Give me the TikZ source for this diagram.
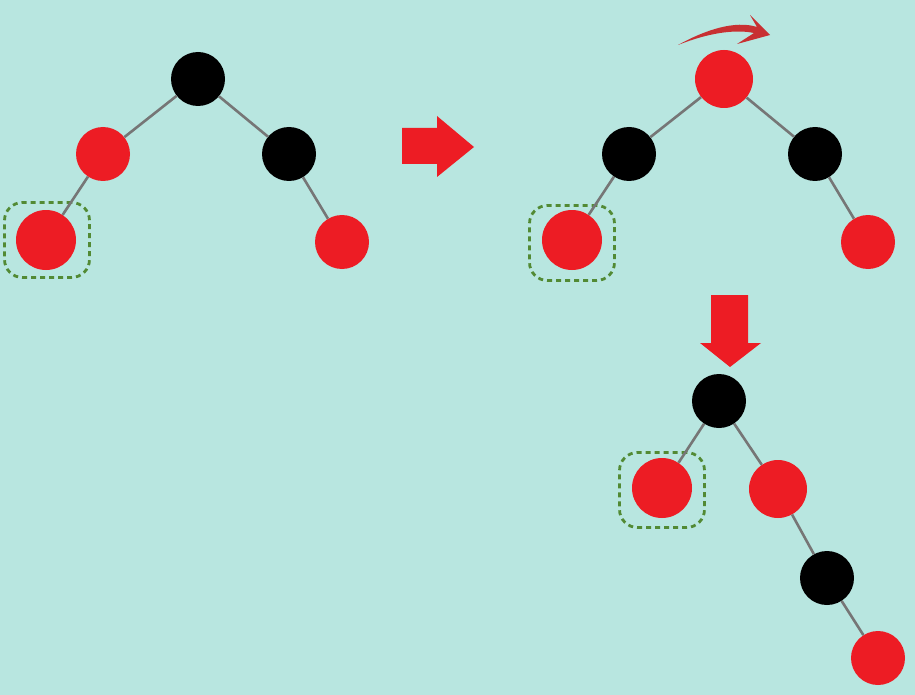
\documentclass[tikz,border=0pt]{standalone}
\usepackage{tikz}
\usetikzlibrary{arrows.meta}
\definecolor{rbback}{RGB}{184,230,224}
\definecolor{rbred}{RGB}{237,28,36}
\definecolor{rbswoosh}{RGB}{200,48,50}
\definecolor{rbedge}{RGB}{118,118,118}
\definecolor{rbgreen}{RGB}{82,138,52}

\begin{document}
\begin{tikzpicture}[
  x=1pt, y=-1pt,
  rednode/.style={
    circle,
    fill=rbred,
    inner sep=0pt,
    minimum size=54pt
  },
  blacknode/.style={
    circle,
    fill=black,
    inner sep=0pt,
    minimum size=54pt
  },
  edge/.style={
    draw=rbedge,
    line width=2.6pt
  },
  hold/.style={
    draw=rbgreen,
    line width=2.8pt,
    dash pattern=on 5pt off 4pt,
    rounded corners=18pt,
    minimum width=85pt,
    minimum height=75pt,
    inner sep=0pt
  },
  bigarrow/.style={
    fill=rbred
  }
]

\fill[rbback] (0,0) rectangle (915,695);
\useasboundingbox (0,0) rectangle (915,695);

% first tree
\node[blacknode] (a1) at (198,79) {};
\node[rednode] (a2) at (103,154) {};
\node[blacknode] (a3) at (289,154) {};
\node[rednode, minimum size=60pt] (a4) at (46,240) {};
\node[rednode] (a5) at (342,242) {};
\node[hold] (ha) at (47,240) {};

\draw[edge] (a1) -- (a2);
\draw[edge] (a1) -- (a3);
\draw[edge] (a2) -- (a4);
\draw[edge] (a3) -- (a5);

% recolour step
\fill[bigarrow] (402,128) -- (437,128) -- (437,116) -- (474,147)
  -- (437,177) -- (437,164) -- (402,164) -- cycle;

% second tree
\node[rednode, minimum size=58pt] (b1) at (724,79) {};
\node[blacknode] (b2) at (629,154) {};
\node[blacknode] (b3) at (815,154) {};
\node[rednode, minimum size=60pt] (b4) at (572,240) {};
\node[rednode] (b5) at (868,242) {};
\node[hold] (hb) at (572,243) {};

\draw[edge] (b1) -- (b2);
\draw[edge] (b1) -- (b3);
\draw[edge] (b2) -- (b4);
\draw[edge] (b3) -- (b5);

% rotation hint
\fill[rbswoosh] (678,45) .. controls (705,30) and (735,20) .. (757,27)
  -- (750,15) -- (770,35) -- (737,44) -- (754,33)
  .. controls (735,29) and (708,33) .. (678,45) -- cycle;

% rotate step
\fill[bigarrow] (711,295) -- (748,295) -- (748,343) -- (761,343)
  -- (730,367) -- (700,343) -- (711,343) -- cycle;

% third tree
\node[blacknode] (c1) at (719,401) {};
\node[rednode, minimum size=60pt] (c2) at (662,488) {};
\node[rednode, minimum size=58pt] (c3) at (778,489) {};
\node[blacknode] (c4) at (827,578) {};
\node[rednode] (c5) at (878,658) {};
\node[hold] (hc) at (662,490) {};

\draw[edge] (c1) -- (c2);
\draw[edge] (c1) -- (c3);
\draw[edge] (c3) -- (c4);
\draw[edge] (c4) -- (c5);

\end{tikzpicture}
\end{document}
